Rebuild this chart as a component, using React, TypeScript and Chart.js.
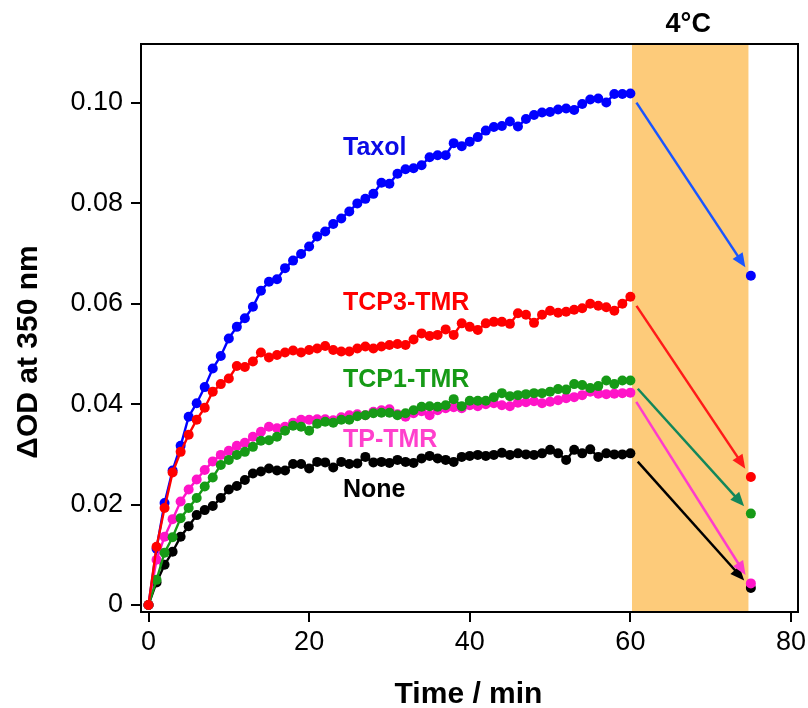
import React, { useEffect, useRef } from "react";
import { Chart, registerables } from "chart.js";

Chart.register(...registerables);

// ---- Data ----
const times = [
  0, 1, 2, 3, 4, 5, 6, 7, 8, 9, 10, 11, 12, 13, 14, 15, 16, 17, 18, 19, 20,
  21, 22, 23, 24, 25, 26, 27, 28, 29, 30, 31, 32, 33, 34, 35, 36, 37, 38, 39, 40,
  41, 42, 43, 44, 45, 46, 47, 48, 49, 50, 51, 52, 53, 54, 55, 56, 57, 58, 59, 60,
];
const coldTime = 75;

const taxol = [
  0, 0.0112, 0.0203, 0.0268, 0.0317, 0.0375, 0.0402, 0.0434, 0.0471, 0.0496, 0.0531,
  0.0554, 0.0571, 0.0594, 0.0626, 0.0644, 0.0649, 0.0671, 0.0686, 0.0699, 0.0714,
  0.0734, 0.0744, 0.0759, 0.077, 0.0784, 0.08, 0.0809, 0.0819, 0.0841, 0.0839,
  0.0859, 0.0868, 0.087, 0.0876, 0.0892, 0.0896, 0.0896, 0.092, 0.0914, 0.0923,
  0.0932, 0.0945, 0.0952, 0.0954, 0.0963, 0.0953, 0.0968, 0.0976, 0.0981, 0.0982,
  0.0987, 0.0989, 0.0986, 0.0998, 0.1007, 0.1009, 0.1001, 0.1018, 0.1018, 0.1019,
];
const taxolCold = 0.0656;

const tcp3 = [
  0, 0.0116, 0.0193, 0.0264, 0.0305, 0.0339, 0.0369, 0.0393, 0.0425, 0.044, 0.0451,
  0.0476, 0.0474, 0.0485, 0.0503, 0.0493, 0.0498, 0.0503, 0.0507, 0.0503, 0.0508,
  0.0511, 0.0516, 0.0508, 0.0505, 0.0505, 0.0511, 0.0515, 0.0511, 0.0515, 0.0518,
  0.052, 0.0518, 0.0529, 0.0541, 0.0536, 0.0538, 0.0549, 0.0538, 0.0561, 0.0554,
  0.0548, 0.0561, 0.0564, 0.0564, 0.056, 0.0581, 0.0578, 0.0562, 0.0578, 0.0586,
  0.0582, 0.0584, 0.0588, 0.0591, 0.06, 0.0596, 0.0593, 0.0586, 0.06, 0.0614,
];
const tcp3Cold = 0.0255;

const tcp1 = [
  0, 0.005, 0.0104, 0.0135, 0.0173, 0.0193, 0.0213, 0.0236, 0.0254, 0.0279, 0.0289,
  0.0299, 0.0305, 0.0315, 0.0327, 0.0328, 0.0335, 0.0347, 0.0357, 0.0355, 0.0347,
  0.0361, 0.0365, 0.0363, 0.0369, 0.0369, 0.0376, 0.0378, 0.0382, 0.0383, 0.0383,
  0.0378, 0.0382, 0.0388, 0.0395, 0.0396, 0.0395, 0.0398, 0.041, 0.0396, 0.0407,
  0.0407, 0.0407, 0.0414, 0.0422, 0.0416, 0.0418, 0.042, 0.0422, 0.0422, 0.0425,
  0.043, 0.0429, 0.044, 0.0438, 0.0432, 0.0436, 0.0447, 0.044, 0.0447, 0.0447,
];
const tcp1Cold = 0.0182;

const tp = [
  0, 0.009, 0.0136, 0.0171, 0.0206, 0.023, 0.025, 0.0269, 0.0286, 0.0299, 0.0307,
  0.0317, 0.0323, 0.0335, 0.0345, 0.0355, 0.0352, 0.0355, 0.0363, 0.0369, 0.0369,
  0.037, 0.037, 0.0368, 0.0374, 0.0378, 0.038, 0.0378, 0.0385, 0.0388, 0.039,
  0.038, 0.0375, 0.0382, 0.0386, 0.0378, 0.0388, 0.0392, 0.0394, 0.0392, 0.0398,
  0.0396, 0.04, 0.0402, 0.0398, 0.0396, 0.0403, 0.0404, 0.0406, 0.0402, 0.0405,
  0.0408, 0.0412, 0.0414, 0.0418, 0.0425, 0.0421, 0.042, 0.0421, 0.0422, 0.0423,
];
const tpCold = 0.0043;

const none = [
  0, 0.0045, 0.008, 0.0106, 0.0136, 0.0157, 0.0179, 0.0189, 0.0197, 0.0213, 0.023,
  0.0237, 0.0249, 0.0262, 0.0266, 0.0272, 0.0268, 0.0268, 0.0281, 0.0281, 0.0272,
  0.0285, 0.0284, 0.0274, 0.0285, 0.0281, 0.0282, 0.0295, 0.0284, 0.0285, 0.0283,
  0.0289, 0.0285, 0.0283, 0.0292, 0.0297, 0.0292, 0.0289, 0.0285, 0.0295, 0.0297,
  0.0299, 0.0297, 0.0299, 0.0303, 0.0299, 0.0302, 0.03, 0.0299, 0.0302, 0.0309,
  0.0302, 0.0289, 0.0309, 0.0302, 0.031, 0.0295, 0.0302, 0.03, 0.03, 0.0302,
];
const noneCold = 0.0034;

const xTicks = [0, 20, 40, 60, 80];
const xTickLabels = ["0", "20", "40", "60", "80"];
const yTicks = [0, 0.02, 0.04, 0.06, 0.08, 0.1];
const yTickLabels = ["0", "0.02", "0.04", "0.06", "0.08", "0.10"];
const coldBand = [60.2, 74.7];
const coldLabel = "4°C";
const xTitle = "Time / min";
const yTitle = "ΔOD at 350 nm";

// ---- Styles ----
const series = [
  { name: "Taxol", values: taxol, cold: taxolCold, color: "#0000ff", arrow: "#1a55ff", text: "#0a0ae6", order: 5, labelY: 155 },
  { name: "None", values: none, cold: noneCold, color: "#000000", arrow: "#000000", text: "#000000", order: 4, labelY: 496.5 },
  { name: "TP-TMR", values: tp, cold: tpCold, color: "#ff14c8", arrow: "#ff3ccc", text: "#ff40cc", order: 3, labelY: 446.5 },
  { name: "TCP1-TMR", values: tcp1, cold: tcp1Cold, color: "#169a16", arrow: "#13875a", text: "#169a16", order: 2, labelY: 386.5 },
  { name: "TCP3-TMR", values: tcp3, cold: tcp3Cold, color: "#ff0000", arrow: "#ff1a1a", text: "#ff0000", order: 1, labelY: 309.5 },
];

const FONT = "'Liberation Sans', Arial, Helvetica, sans-serif";

const decorPlugin = {
  id: "decor",
  beforeDatasetsDraw(chart: any) {
    const { ctx, chartArea, scales } = chart;
    const x0 = scales.x.getPixelForValue(coldBand[0]);
    const x1 = scales.x.getPixelForValue(coldBand[1]);
    ctx.save();
    ctx.fillStyle = "#fdcb7a";
    ctx.fillRect(x0, chartArea.top, x1 - x0, chartArea.bottom - chartArea.top);
    ctx.restore();
  },
  afterDatasetsDraw(chart: any) {
    const { ctx, scales } = chart;
    ctx.save();
    for (const s of series) {
      const last = s.values[s.values.length - 1];
      const px0 = scales.x.getPixelForValue(times[times.length - 1]);
      const py0 = scales.y.getPixelForValue(last);
      const px1 = scales.x.getPixelForValue(coldTime);
      const py1 = scales.y.getPixelForValue(s.cold);
      const dx = px1 - px0, dy = py1 - py0;
      const len = Math.hypot(dx, dy);
      const ux = dx / len, uy = dy / len;
      const sx = px0 + ux * 11, sy = py0 + uy * 11;
      const tx = px1 - ux * 10, ty = py1 - uy * 10;
      const headLen = 14, headW = 6;
      const bx = tx - ux * headLen, by = ty - uy * headLen;
      ctx.strokeStyle = s.arrow;
      ctx.fillStyle = s.arrow;
      ctx.lineWidth = 2.5;
      ctx.beginPath();
      ctx.moveTo(sx, sy);
      ctx.lineTo(bx + ux * 2, by + uy * 2);
      ctx.stroke();
      ctx.beginPath();
      ctx.moveTo(tx, ty);
      ctx.lineTo(bx - uy * headW, by + ux * headW);
      ctx.lineTo(bx + uy * headW, by - ux * headW);
      ctx.closePath();
      ctx.fill();
    }
    ctx.restore();
  },
  afterDraw(chart: any) {
    const { ctx, chartArea, scales } = chart;
    ctx.save();
    // frame
    ctx.strokeStyle = "#000";
    ctx.lineWidth = 2;
    ctx.strokeRect(chartArea.left, chartArea.top, chartArea.right - chartArea.left, chartArea.bottom - chartArea.top);
    // series labels
    ctx.font = `bold 25px ${FONT}`;
    ctx.textAlign = "left";
    ctx.textBaseline = "alphabetic";
    for (const s of series) {
      ctx.fillStyle = s.text;
      ctx.fillText(s.name, 343, s.labelY);
    }
    // 4°C label
    ctx.fillStyle = "#000";
    ctx.font = `bold 27px ${FONT}`;
    ctx.textAlign = "center";
    const cx = (scales.x.getPixelForValue(coldBand[0]) + scales.x.getPixelForValue(coldBand[1])) / 2;
    ctx.fillText(coldLabel, cx - 2, 32);
    // axis titles
    ctx.font = `bold 30px ${FONT}`;
    ctx.fillText(xTitle, (chartArea.left + chartArea.right) / 2 - 1, 703);
    ctx.translate(37, 352);
    ctx.rotate(-Math.PI / 2);
    ctx.fillText(yTitle, 0, 0);
    ctx.restore();
  },
};

export default function App() {
  const ref = useRef<HTMLCanvasElement | null>(null);

  useEffect(() => {
    if (!ref.current) return;
    const datasets: any[] = [];
    for (const s of series) {
      datasets.push({
        label: s.name,
        data: times.map((t, i) => ({ x: t, y: s.values[i] })),
        borderColor: s.color,
        backgroundColor: s.color,
        borderWidth: 2.4,
        pointRadius: 5,
        pointBorderWidth: 0,
        pointHoverRadius: 5,
        tension: 0,
        showLine: true,
        clip: false,
        order: s.order,
      });
      datasets.push({
        label: s.name + " (4°C)",
        data: [{ x: coldTime, y: s.cold }],
        borderColor: s.color,
        backgroundColor: s.color,
        pointRadius: 5,
        pointBorderWidth: 0,
        showLine: false,
        clip: false,
        order: s.order,
      });
    }

    const tickFont = { family: FONT, size: 27 };
    const chart = new Chart(ref.current, {
      type: "scatter",
      data: { datasets },
      plugins: [decorPlugin],
      options: {
        responsive: false,
        animation: false,
        devicePixelRatio: 1,
        layout: { padding: { top: 44, right: 10, left: 0, bottom: 0 } },
        plugins: { legend: { display: false }, tooltip: { enabled: false }, title: { display: false } },
        scales: {
          x: {
            type: "linear",
            min: -0.934,
            max: 80.87,
            afterBuildTicks: (s: any) => {
              s.ticks = xTicks.map((v) => ({ value: v }));
            },
            afterFit: (s: any) => {
              s.height = 96;
              s.paddingLeft = 0;
              s.paddingRight = 0;
            },
            grid: { display: true, drawOnChartArea: false, drawTicks: true, tickLength: 10, tickWidth: 2, tickColor: "#000", color: "#000", lineWidth: 2 },
            border: { display: true, color: "#000", width: 2 },
            ticks: {
              font: tickFont,
              color: "#000",
              padding: 4,
              maxRotation: 0,
              autoSkip: false,
              callback: (v: any) => {
                const i = xTicks.findIndex((t) => Math.abs(t - v) < 1e-9);
                return i >= 0 ? xTickLabels[i] : "";
              },
            },
          },
          y: {
            type: "linear",
            min: -0.0014,
            max: 0.11175,
            afterBuildTicks: (s: any) => {
              s.ticks = yTicks.map((v) => ({ value: v }));
            },
            afterFit: (s: any) => {
              s.width = 141;
              s.paddingTop = 0;
              s.paddingBottom = 0;
            },
            grid: { display: true, drawOnChartArea: false, drawTicks: true, tickLength: 10, tickWidth: 2, tickColor: "#000", color: "#000", lineWidth: 2 },
            border: { display: true, color: "#000", width: 2 },
            ticks: {
              font: tickFont,
              color: "#000",
              padding: 8,
              autoSkip: false,
              callback: (v: any) => {
                const i = yTicks.findIndex((t) => Math.abs(t - v) < 1e-9);
                return i >= 0 ? yTickLabels[i] : "";
              },
            },
          },
        },
      } as any,
    });
    return () => chart.destroy();
  }, []);

  return (
    <div style={{ position: "absolute", left: 0, top: 0, width: 808, height: 708, background: "#fff" }}>
      <canvas ref={ref} width={808} height={708} style={{ width: 808, height: 708, display: "block" }} />
    </div>
  );
}
